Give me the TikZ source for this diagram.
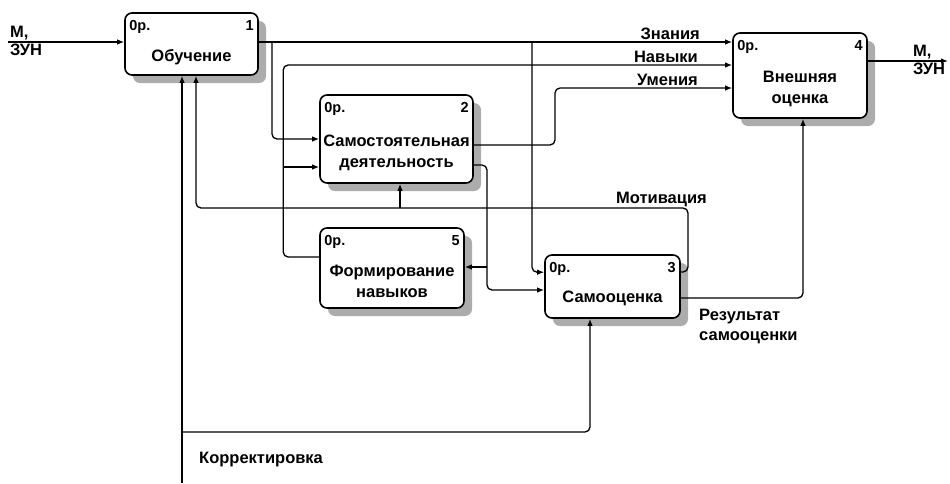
\documentclass[tikz,border=0pt]{standalone}
\usepackage{fontspec}
\setmainfont{Liberation Sans}
\usetikzlibrary{arrows.meta,positioning,shadows,calc}

\tikzset{
  proc/.style={draw, line width=1.6pt, rounded corners=7pt, fill=white,
    drop shadow={shadow xshift=8pt, shadow yshift=-8pt, fill=gray!65, opacity=1}},
  flow/.style={line width=1.3pt, rounded corners=5pt},
  arr/.style={flow, -{Latex[length=7pt,width=5.5pt]}},
  tag/.style={font=\fontsize{14.5}{16}\selectfont\bfseries, inner xsep=5pt, inner ysep=8pt},
  title/.style={font=\fontsize{16.5}{21}\selectfont\bfseries, align=center, inner sep=0pt},
  lab/.style={font=\fontsize{16.5}{20}\selectfont\bfseries, align=left, inner sep=2pt},
}

\begin{document}
\begin{tikzpicture}[x=1pt,y=-1pt]
\useasboundingbox (0,0) rectangle (950,483);

% function boxes
\node[proc, minimum width=133, minimum height=62] (b1) at (191.5,44) {};
\node[proc, minimum width=153, minimum height=88] (b2) at (396.5,139) {};
\node[proc, minimum width=135, minimum height=63] (b3) at (612.5,286.5) {};
\node[proc, minimum width=134, minimum height=85] (b4) at (800,75.5) {};
\node[proc, minimum width=144, minimum height=80] (b5) at (392,268) {};

% box texts
\node[tag, anchor=north west] (b1t) at (b1.north west) {0р.};
\node[tag, anchor=north east] (b1n) at (b1.north east) {1};
\node[title] (b1c) at ([yshift=-13pt]b1.center) {Обучение};
\node[tag, anchor=north west] (b2t) at (b2.north west) {0р.};
\node[tag, anchor=north east] (b2n) at (b2.north east) {2};
\node[title] (b2c) at ([yshift=-14pt]b2.center) {Самостоятельная\\деятельность};
\node[tag, anchor=north west] (b3t) at (b3.north west) {0р.};
\node[tag, anchor=north east] (b3n) at (b3.north east) {3};
\node[title] (b3c) at ([yshift=-11.5pt]b3.center) {Самооценка};
\node[tag, anchor=north west] (b4t) at (b4.north west) {0р.};
\node[tag, anchor=north east] (b4n) at (b4.north east) {4};
\node[title] (b4c) at ([yshift=-13.5pt]b4.center) {Внешняя\\оценка};
\node[tag, anchor=north west] (b5t) at (b5.north west) {0р.};
\node[tag, anchor=north east] (b5n) at (b5.north east) {5};
\node[title] (b5c) at ([yshift=-13pt]b5.center) {Формирование\\навыков};

% input and output
\coordinate (in) at (8,42);
\draw[arr] (in) -- (in -| b1.west);
\node[lab, anchor=south west] (inM) at (in) {М,};
\node[lab, anchor=north west] (inZ) at (in) {ЗУН};
\coordinate (out) at (948,61);
\coordinate (outl) at (911,61);
\draw[arr] (out -| b4.east) -- (out);
\node[lab, anchor=south west] (outM) at (outl) {М,};
\node[lab, anchor=north west] (outZ) at (outl) {ЗУН};

% knowledge
\coordinate (zn) at (702,42);
\coordinate (zn1) at (272,42);
\coordinate (zn2) at (532,42);
\draw[arr] (b1.east |- zn) -- (b4.west |- zn);
\draw[arr] (zn1) |- (b2.west);
\draw[arr] (zn2) |- ([yshift=-18pt]b3.north west);
\node[lab, anchor=south east] (znl) at (zn) {Знания};

% skills
\coordinate (nv) at (700,65);
\coordinate (nv1) at (284,167);
\draw[arr] ([yshift=11pt]b5.west) -- ++(-36,0) |- (b4.west |- nv);
\draw[arr] (nv1) -- (nv1 -| b2.west);
\node[lab, anchor=south east] (nvl) at (nv) {Навыки};

% abilities
\coordinate (um) at (700,88);
\coordinate (um1) at (555,88);
\draw[arr] ([yshift=-6pt]b2.east) -| (um1) -- (b4.west |- um);
\node[lab, anchor=south east] (uml) at (um) {Умения};

% activity to self-assessment
\coordinate (sd) at (487,290);
\coordinate (sd1) at (487,267);
\draw[arr] ([yshift=-26pt]b2.east) -| (sd) -- (sd -| b3.west);
\draw[arr] (sd1) -- (sd1 -| b5.east);

% motivation
\coordinate (mt) at (688,208);
\coordinate (mt1) at (400,208);
\draw[arr] ([yshift=14.5pt]b3.east) -| (mt) -| ([xshift=4.5pt]b1.south);
\draw[arr] (mt1) -- (mt1 |- b2.south);
\node[lab, anchor=south east] (mtl) at (709,209) {Мотивация};

% result
\coordinate (rs) at (803,298);
\draw[arr] (rs -| b3.east) -| (rs |- b4.south);
\node[lab, anchor=north west] (rsl) at (697,307) {Результат\\самооценки};

% correction
\coordinate (kr) at (182,483);
\coordinate (kr1) at (182,432);
\draw[arr] (kr) -- (kr |- b1.south);
\draw[arr] (kr1) -| ([xshift=-22.5pt]b3.south);
\node[lab, anchor=west] (krl) at (197,460) {Корректировка};
\end{tikzpicture}
\end{document}
